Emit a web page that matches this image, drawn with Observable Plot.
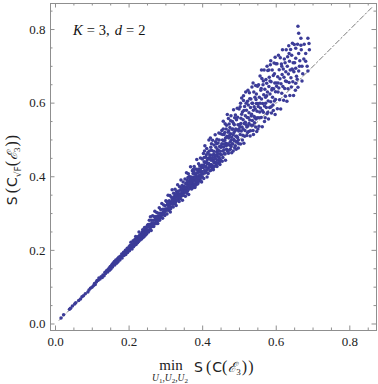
<!DOCTYPE html>
<html><head><meta charset="utf-8">
<script src="https://cdn.jsdelivr.net/npm/d3@7"></script>
<script src="https://cdn.jsdelivr.net/npm/@observablehq/plot@0.6"></script>
<style>body{margin:0;background:#fff} svg{display:block}</style>
</head><body><div id="chart"></div>
<script>
// Data (x = min S(C(E3)), y = S(C_sqrtF(E3)))
const bandA = [[0.015,0.016],[0.022,0.025],[0.038,0.040],[0.041,0.043],[0.046,0.049],[0.052,0.054],[0.055,0.058],[0.063,0.064],[0.068,0.068],[0.072,0.074],[0.076,0.077],[0.081,0.082],[0.088,0.087],[0.091,0.092],[0.095,0.097],[0.099,0.100],[0.103,0.104],[0.106,0.110]];
const bandB = [[0.108,0.107],[0.111,0.114],[0.113,0.118],[0.116,0.119],[0.118,0.125],[0.121,0.122],[0.124,0.128],[0.127,0.126],[0.129,0.133],[0.132,0.131],[0.134,0.140],[0.136,0.137],[0.138,0.143],[0.140,0.146],[0.142,0.141],[0.144,0.149],[0.146,0.152],[0.147,0.146],[0.149,0.156],[0.151,0.150]];
const bandC = [[0.152,0.158],[0.154,0.162],[0.155,0.155],[0.157,0.166],[0.158,0.161],[0.160,0.170],[0.161,0.160],[0.163,0.168],[0.164,0.174],[0.166,0.165],[0.167,0.172],[0.169,0.178],[0.170,0.169],[0.172,0.181],[0.173,0.176],[0.175,0.174],[0.176,0.184],[0.178,0.180],[0.180,0.190],[0.181,0.179],[0.183,0.187],[0.185,0.195],[0.186,0.186],[0.188,0.192],[0.190,0.200],[0.191,0.189],[0.193,0.198],[0.195,0.206],[0.196,0.194],[0.198,0.203]];
const bandD = [[0.200,0.210],[0.201,0.199],[0.203,0.214],[0.204,0.205],[0.205,0.222],[0.207,0.211],[0.208,0.204],[0.209,0.217],[0.211,0.226],[0.212,0.210],[0.213,0.219],[0.215,0.214],[0.216,0.230],[0.217,0.222],[0.219,0.216],[0.220,0.227],[0.221,0.234],[0.223,0.221],[0.224,0.229],[0.225,0.238],[0.226,0.224],[0.228,0.233],[0.229,0.242],[0.230,0.228],[0.231,0.236],[0.233,0.245],[0.234,0.231],[0.235,0.240],[0.236,0.250],[0.238,0.235],[0.239,0.244],[0.240,0.254],[0.241,0.238],[0.243,0.248],[0.244,0.258],[0.245,0.242],[0.246,0.252],[0.247,0.263],[0.248,0.245],[0.249,0.256],[0.250,0.268],[0.237,0.256],[0.242,0.262],[0.227,0.250],[0.218,0.238]];
const bandE = [[0.251,0.255],[0.252,0.270],[0.253,0.250],[0.254,0.264],[0.255,0.282],[0.256,0.257],[0.257,0.271],[0.258,0.291],[0.259,0.266],[0.260,0.254],[0.261,0.282],[0.262,0.274],[0.263,0.265],[0.264,0.294],[0.265,0.274],[0.266,0.282],[0.267,0.265],[0.268,0.292],[0.269,0.274],[0.270,0.306],[0.271,0.282],[0.272,0.272],[0.273,0.292],[0.274,0.282],[0.275,0.303],[0.276,0.279],[0.277,0.292],[0.278,0.273],[0.279,0.301],[0.280,0.293],[0.281,0.287],[0.282,0.316],[0.283,0.282],[0.284,0.301],[0.285,0.295],[0.286,0.311],[0.287,0.289],[0.288,0.301],[0.289,0.327],[0.290,0.297],[0.291,0.287],[0.292,0.312],[0.293,0.304],[0.294,0.323],[0.295,0.299],[0.296,0.312],[0.297,0.295],[0.298,0.321],[0.299,0.308],[0.300,0.335],[0.258,0.262],[0.266,0.273],[0.272,0.286],[0.279,0.284],[0.284,0.290],[0.288,0.296],[0.293,0.298],[0.262,0.268],[0.276,0.288],[0.297,0.305]];
const bandF = [[0.301,0.313],[0.302,0.333],[0.303,0.299],[0.304,0.324],[0.305,0.311],[0.306,0.350],[0.307,0.322],[0.308,0.309],[0.309,0.335],[0.310,0.319],[0.311,0.349],[0.312,0.304],[0.313,0.331],[0.314,0.318],[0.315,0.344],[0.316,0.329],[0.317,0.365],[0.318,0.325],[0.319,0.341],[0.320,0.318],[0.321,0.355],[0.322,0.333],[0.323,0.340],[0.324,0.327],[0.325,0.366],[0.326,0.350],[0.327,0.335],[0.328,0.322],[0.329,0.359],[0.330,0.344],[0.331,0.350],[0.332,0.378],[0.333,0.338],[0.334,0.361],[0.335,0.345],[0.336,0.333],[0.337,0.373],[0.338,0.354],[0.339,0.341],[0.340,0.363],[0.341,0.391],[0.342,0.354],[0.343,0.349],[0.344,0.376],[0.345,0.336],[0.346,0.366],[0.347,0.386],[0.348,0.356],[0.349,0.374],[0.350,0.364],[0.303,0.310],[0.305,0.326],[0.308,0.317],[0.311,0.326],[0.313,0.313],[0.315,0.330],[0.317,0.337],[0.319,0.327],[0.322,0.346],[0.324,0.336],[0.326,0.330],[0.328,0.345],[0.330,0.336],[0.332,0.355],[0.334,0.342],[0.336,0.349],[0.338,0.344],[0.340,0.352],[0.342,0.368],[0.344,0.350],[0.345,0.359],[0.347,0.350],[0.348,0.369],[0.309,0.327],[0.327,0.352]];
const bandG = [[0.351,0.369],[0.352,0.394],[0.353,0.347],[0.354,0.381],[0.355,0.363],[0.356,0.411],[0.357,0.370],[0.358,0.391],[0.359,0.361],[0.360,0.381],[0.361,0.408],[0.362,0.352],[0.363,0.378],[0.364,0.401],[0.365,0.371],[0.366,0.391],[0.367,0.427],[0.368,0.379],[0.369,0.399],[0.370,0.367],[0.371,0.390],[0.372,0.416],[0.373,0.382],[0.374,0.409],[0.375,0.376],[0.376,0.399],[0.377,0.428],[0.378,0.392],[0.379,0.371],[0.380,0.408],[0.381,0.421],[0.382,0.387],[0.383,0.400],[0.384,0.447],[0.385,0.395],[0.386,0.418],[0.387,0.382],[0.388,0.412],[0.389,0.435],[0.390,0.402],[0.391,0.394],[0.392,0.430],[0.393,0.413],[0.394,0.451],[0.395,0.402],[0.396,0.425],[0.397,0.386],[0.398,0.414],[0.399,0.448],[0.400,0.426],[0.352,0.360],[0.354,0.372],[0.356,0.384],[0.357,0.355],[0.359,0.375],[0.361,0.388],[0.362,0.366],[0.364,0.383],[0.366,0.375],[0.367,0.396],[0.369,0.386],[0.371,0.374],[0.372,0.397],[0.373,0.370],[0.375,0.389],[0.376,0.414],[0.378,0.381],[0.379,0.396],[0.381,0.377],[0.382,0.404],[0.383,0.390],[0.385,0.410],[0.386,0.380],[0.388,0.397],[0.389,0.421],[0.390,0.388],[0.392,0.405],[0.393,0.396],[0.394,0.418],[0.395,0.389],[0.397,0.407],[0.398,0.431],[0.399,0.399],[0.360,0.398],[0.374,0.420]];
const bandH = [[0.401,0.425],[0.402,0.463],[0.403,0.395],[0.404,0.441],[0.405,0.417],[0.406,0.484],[0.407,0.426],[0.408,0.453],[0.409,0.412],[0.410,0.441],[0.411,0.477],[0.412,0.399],[0.413,0.435],[0.414,0.466],[0.415,0.423],[0.416,0.451],[0.417,0.500],[0.418,0.433],[0.419,0.460],[0.420,0.416],[0.421,0.448],[0.422,0.480],[0.423,0.433],[0.424,0.472],[0.425,0.425],[0.426,0.459],[0.427,0.499],[0.428,0.445],[0.429,0.419],[0.430,0.469],[0.431,0.486],[0.432,0.438],[0.433,0.458],[0.434,0.514],[0.435,0.448],[0.436,0.480],[0.437,0.431],[0.438,0.468],[0.439,0.502],[0.440,0.456],[0.441,0.445],[0.442,0.492],[0.443,0.471],[0.444,0.519],[0.445,0.454],[0.446,0.482],[0.447,0.433],[0.448,0.469],[0.449,0.517],[0.450,0.484],[0.401,0.408],[0.403,0.432],[0.404,0.452],[0.406,0.410],[0.407,0.438],[0.409,0.428],[0.410,0.460],[0.412,0.419],[0.413,0.447],[0.415,0.409],[0.416,0.437],[0.418,0.470],[0.419,0.427],[0.420,0.452],[0.422,0.418],[0.423,0.445],[0.424,0.490],[0.426,0.431],[0.427,0.452],[0.428,0.422],[0.430,0.441],[0.431,0.462],[0.432,0.428],[0.434,0.450],[0.435,0.495],[0.436,0.439],[0.437,0.458],[0.439,0.428],[0.440,0.474],[0.441,0.463],[0.442,0.437],[0.444,0.451],[0.445,0.500],[0.446,0.441],[0.447,0.462],[0.448,0.447],[0.449,0.480],[0.405,0.470],[0.421,0.505],[0.438,0.490]];
const bandI = [[0.451,0.481],[0.452,0.526],[0.453,0.442],[0.454,0.500],[0.455,0.470],[0.456,0.551],[0.457,0.481],[0.458,0.515],[0.459,0.463],[0.460,0.499],[0.461,0.544],[0.462,0.445],[0.463,0.491],[0.464,0.530],[0.465,0.475],[0.466,0.510],[0.467,0.569],[0.468,0.487],[0.469,0.521],[0.470,0.464],[0.471,0.505],[0.472,0.543],[0.473,0.486],[0.474,0.534],[0.475,0.475],[0.476,0.517],[0.477,0.566],[0.478,0.500],[0.479,0.465],[0.480,0.529],[0.481,0.550],[0.482,0.489],[0.483,0.514],[0.484,0.582],[0.485,0.501],[0.486,0.541],[0.487,0.479],[0.488,0.525],[0.489,0.568],[0.490,0.510],[0.491,0.496],[0.492,0.555],[0.493,0.528],[0.494,0.586],[0.495,0.506],[0.496,0.541],[0.497,0.478],[0.498,0.524],[0.499,0.584],[0.500,0.542],[0.451,0.460],[0.452,0.490],[0.454,0.515],[0.455,0.452],[0.457,0.497],[0.458,0.473],[0.460,0.520],[0.461,0.462],[0.462,0.505],[0.464,0.484],[0.465,0.540],[0.467,0.470],[0.468,0.508],[0.469,0.490],[0.471,0.525],[0.472,0.472],[0.473,0.512],[0.475,0.495],[0.476,0.552],[0.477,0.482],[0.479,0.507],[0.480,0.490],[0.482,0.530],[0.483,0.470],[0.485,0.520],[0.486,0.498],[0.487,0.560],[0.489,0.484],[0.490,0.530],[0.491,0.475],[0.493,0.510],[0.494,0.494],[0.495,0.562],[0.497,0.500],[0.498,0.490],[0.499,0.530],[0.456,0.530],[0.470,0.558],[0.484,0.545],[0.459,0.488]];
const bandJ = [[0.501,0.536],[0.502,0.590],[0.503,0.489],[0.504,0.559],[0.505,0.524],[0.506,0.614],[0.507,0.535],[0.508,0.576],[0.509,0.513],[0.510,0.555],[0.511,0.607],[0.512,0.491],[0.513,0.545],[0.514,0.591],[0.515,0.526],[0.516,0.566],[0.517,0.630],[0.518,0.541],[0.519,0.581],[0.520,0.512],[0.521,0.561],[0.522,0.605],[0.523,0.538],[0.524,0.595],[0.525,0.523],[0.526,0.574],[0.527,0.628],[0.528,0.554],[0.529,0.511],[0.530,0.588],[0.531,0.611],[0.532,0.540],[0.533,0.570],[0.534,0.644],[0.535,0.553],[0.536,0.600],[0.537,0.526],[0.538,0.581],[0.539,0.630],[0.540,0.564],[0.541,0.547],[0.542,0.616],[0.543,0.584],[0.544,0.648],[0.545,0.557],[0.546,0.599],[0.547,0.523],[0.548,0.578],[0.549,0.646],[0.550,0.599],[0.502,0.515],[0.504,0.545],[0.506,0.570],[0.508,0.500],[0.510,0.530],[0.512,0.580],[0.514,0.510],[0.516,0.548],[0.518,0.600],[0.520,0.535],[0.522,0.520],[0.524,0.560],[0.526,0.545],[0.528,0.612],[0.530,0.525],[0.532,0.565],[0.534,0.600],[0.536,0.540],[0.538,0.515],[0.540,0.590],[0.542,0.560],[0.544,0.535],[0.546,0.625],[0.548,0.560],[0.550,0.530],[0.503,0.600],[0.511,0.620],[0.523,0.635],[0.537,0.655],[0.545,0.610]];
const bandK = [[0.551,0.591],[0.552,0.650],[0.553,0.537],[0.554,0.616],[0.555,0.576],[0.556,0.674],[0.557,0.587],[0.558,0.635],[0.559,0.561],[0.560,0.611],[0.561,0.667],[0.562,0.536],[0.563,0.599],[0.564,0.650],[0.565,0.575],[0.566,0.623],[0.567,0.690],[0.568,0.592],[0.569,0.638],[0.570,0.560],[0.571,0.616],[0.572,0.664],[0.573,0.588],[0.574,0.654],[0.575,0.571],[0.576,0.630],[0.577,0.689],[0.578,0.606],[0.579,0.557],[0.580,0.645],[0.581,0.670],[0.582,0.588],[0.583,0.625],[0.584,0.704],[0.585,0.604],[0.586,0.658],[0.587,0.573],[0.588,0.636],[0.589,0.690],[0.590,0.616],[0.591,0.595],[0.592,0.675],[0.593,0.639],[0.594,0.709],[0.595,0.606],[0.596,0.655],[0.597,0.569],[0.598,0.631],[0.599,0.707],[0.600,0.655],[0.553,0.560],[0.556,0.600],[0.559,0.640],[0.562,0.580],[0.565,0.660],[0.568,0.550],[0.571,0.600],[0.574,0.620],[0.577,0.575],[0.580,0.690],[0.583,0.660],[0.586,0.590],[0.589,0.640],[0.592,0.580],[0.595,0.680],[0.598,0.610],[0.560,0.690],[0.575,0.700],[0.585,0.715],[0.597,0.725]];
const bandL = [[0.601,0.646],[0.602,0.707],[0.603,0.585],[0.604,0.672],[0.605,0.630],[0.606,0.730],[0.607,0.641],[0.608,0.691],[0.609,0.609],[0.610,0.666],[0.611,0.723],[0.612,0.584],[0.613,0.653],[0.614,0.706],[0.615,0.627],[0.616,0.678],[0.617,0.745],[0.618,0.645],[0.619,0.693],[0.620,0.608],[0.621,0.670],[0.622,0.720],[0.623,0.640],[0.624,0.710],[0.625,0.619],[0.626,0.685],[0.627,0.745],[0.628,0.659],[0.629,0.605],[0.630,0.700],[0.631,0.726],[0.632,0.639],[0.633,0.679],[0.634,0.756],[0.635,0.656],[0.636,0.714],[0.637,0.621],[0.638,0.690],[0.639,0.746],[0.640,0.669],[0.641,0.644],[0.642,0.730],[0.643,0.693],[0.644,0.763],[0.645,0.658],[0.646,0.710],[0.647,0.621],[0.648,0.685],[0.649,0.759],[0.650,0.710],[0.605,0.655],[0.615,0.700],[0.625,0.660],[0.635,0.735],[0.645,0.690]];
const bandM = [[0.659,0.809],[0.661,0.790],[0.667,0.776],[0.686,0.776],[0.689,0.762],[0.667,0.757],[0.653,0.749],[0.661,0.735],[0.680,0.735],[0.653,0.722],[0.680,0.714],[0.653,0.695],[0.661,0.687],[0.686,0.687],[0.655,0.673],[0.653,0.654],[0.659,0.643],[0.670,0.700],[0.675,0.720],[0.664,0.715],[0.672,0.680],[0.657,0.665],[0.684,0.700],[0.668,0.745],[0.676,0.760],[0.663,0.700],[0.652,0.635],[0.670,0.660],[0.690,0.745],[0.658,0.760]];

const majorTicks = [0, 0.2, 0.4, 0.6, 0.8];
const tickLabels = ["0.0", "0.2", "0.4", "0.6", "0.8"];
const minorTicks = [0.05, 0.1, 0.15, 0.25, 0.3, 0.35, 0.45, 0.5, 0.55, 0.65, 0.7, 0.75, 0.85];
const diagonal = [0.01, 0.86];

const points = [...bandA, ...bandB, ...bandC, ...bandD, ...bandE, ...bandF, ...bandG,
  ...bandH, ...bandI, ...bandJ, ...bandK, ...bandL, ...bandM].map(([x, y]) => ({x, y}));

const W = 378, H = 384, mL = 50, mR = 2, mT = 3, mB = 54;
const fw = W - mL - mR, fh = H - mT - mB;
const axisColor = "#8f8f8f";
const serif = "'Liberation Serif', 'DejaVu Serif', serif";
const fmt = d => tickLabels[majorTicks.indexOf(d)];

const svg = Plot.plot({
  width: W, height: H,
  marginLeft: mL, marginRight: mR, marginTop: mT, marginBottom: mB,
  x: {domain: [-0.0136, 0.8725]},
  y: {domain: [-0.0177, 0.8707]},
  style: {background: "#fff", fontSize: "13px"},
  marks: [
    Plot.line(diagonal.map(v => ({x: v, y: v})), {x: "x", y: "y", stroke: "#7a7a7a", strokeWidth: 1, strokeDasharray: "5,2.5,1.5,2.5"}),
    Plot.dot(points, {x: "x", y: "y", r: 1.75, fill: "#3c3c98", stroke: "none"}),
    Plot.frame({stroke: axisColor}),
    Plot.tickX(majorTicks, {x: d => d, insetTop: fh - 4.5, stroke: axisColor}),
    Plot.tickX(majorTicks, {x: d => d, insetBottom: fh - 4.5, stroke: axisColor}),
    Plot.tickX(minorTicks, {x: d => d, insetTop: fh - 2.5, stroke: axisColor}),
    Plot.tickX(minorTicks, {x: d => d, insetBottom: fh - 2.5, stroke: axisColor}),
    Plot.tickY(majorTicks, {y: d => d, insetRight: fw - 4.5, stroke: axisColor}),
    Plot.tickY(majorTicks, {y: d => d, insetLeft: fw - 4.5, stroke: axisColor}),
    Plot.tickY(minorTicks, {y: d => d, insetRight: fw - 2.5, stroke: axisColor}),
    Plot.tickY(minorTicks, {y: d => d, insetLeft: fw - 2.5, stroke: axisColor}),
    Plot.axisX(majorTicks, {tickSize: 0, tickPadding: 6, tickFormat: fmt, label: null, fontSize: 13, fill: "#222"}),
    Plot.axisY(majorTicks, {tickSize: 0, tickPadding: 5, tickFormat: fmt, label: null, fontSize: 13, fill: "#222"})
  ]
});
document.getElementById("chart").appendChild(svg);

const s = d3.select(svg);
// serif tick labels, as in the reference
s.selectAll("text").style("font-family", serif).style("font-size", "13px");
const sans = "'DejaVu Sans', 'Liberation Sans', sans-serif";
const scriptF = "'DejaVu Serif', serif";

// annotation K = 3, d = 2
const ann = s.append("text").attr("x", 73).attr("y", 35).attr("text-anchor", "start")
  .style("font-family", serif).attr("font-size", 14.5).attr("fill", "#111");
ann.append("tspan").attr("font-style", "italic").text("K");
ann.append("tspan").attr("dx", 4).text("=");
ann.append("tspan").attr("dx", 4).text("3,");
ann.append("tspan").attr("dx", 5).attr("font-style", "italic").text("d");
ann.append("tspan").attr("dx", 4).text("=");
ann.append("tspan").attr("dx", 4).text("2");

// x-axis label
s.append("text").attr("x", 171).attr("y", 370).attr("text-anchor", "middle")
  .style("font-family", serif).attr("font-size", 15).attr("fill", "#222").text("min");
const sub = s.append("text").attr("x", 170).attr("y", 381).attr("text-anchor", "middle")
  .style("font-family", serif).attr("font-size", 9.5).attr("font-style", "italic").attr("fill", "#222");
sub.append("tspan").text("U");
sub.append("tspan").attr("font-size", 7).attr("dy", 2).attr("font-style", "normal").text("1");
sub.append("tspan").attr("dy", -2).text(",U");
sub.append("tspan").attr("font-size", 7).attr("dy", 2).attr("font-style", "normal").text("2");
sub.append("tspan").attr("dy", -2).text(",U");
sub.append("tspan").attr("font-size", 7).attr("dy", 2).attr("font-style", "normal").text("2");

const xl = s.append("text").attr("x", 194).attr("y", 372).attr("text-anchor", "start")
  .attr("font-family", sans).attr("font-size", 14).attr("fill", "#222");
xl.append("tspan").text("S");
xl.append("tspan").attr("dx", 3).attr("font-family", serif).attr("font-size", 16).text("(");
xl.append("tspan").attr("dx", 1).text("C");
xl.append("tspan").attr("font-family", serif).attr("font-size", 16).text("(");
xl.append("tspan").attr("dx", 1).attr("font-family", scriptF).attr("font-style", "italic").text("ℰ");
xl.append("tspan").attr("font-family", serif).attr("font-size", 9).attr("dy", 3).text("3");
xl.append("tspan").attr("dx", 1).attr("font-family", serif).attr("font-size", 16).attr("dy", -3).text(")");
xl.append("tspan").attr("dx", 1).attr("font-family", serif).attr("font-size", 16).text(")");

// y-axis label
const yl = s.append("text").attr("transform", "translate(17,170) rotate(-90)").attr("text-anchor", "middle")
  .attr("font-family", sans).attr("font-size", 14).attr("fill", "#222");
yl.append("tspan").text("S");
yl.append("tspan").attr("dx", 3).attr("font-family", serif).attr("font-size", 16).text("(");
yl.append("tspan").attr("dx", 1).text("C");
yl.append("tspan").attr("font-size", 9).attr("dy", 4).text("√F");
yl.append("tspan").attr("font-family", serif).attr("font-size", 16).attr("dy", -4).text("(");
yl.append("tspan").attr("dx", 1).attr("font-family", scriptF).attr("font-style", "italic").text("ℰ");
yl.append("tspan").attr("font-family", serif).attr("font-size", 9).attr("dy", 3).text("3");
yl.append("tspan").attr("dx", 1).attr("font-family", serif).attr("font-size", 16).attr("dy", -3).text(")");
yl.append("tspan").attr("dx", 1).attr("font-family", serif).attr("font-size", 16).text(")");
</script>
</body></html>
